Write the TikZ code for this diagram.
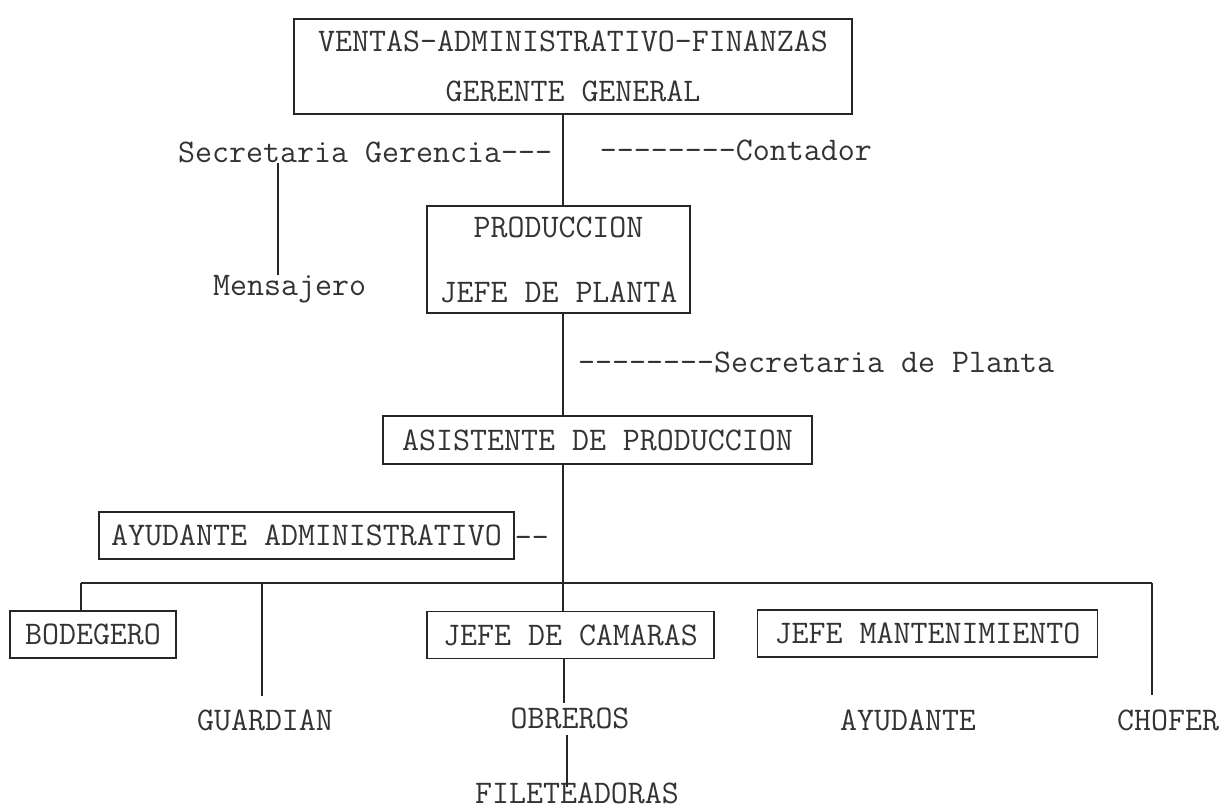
\documentclass[tikz,border=0pt]{standalone}
\usepackage{fontspec}

\begin{document}
\begin{tikzpicture}[x=1pt,y=1pt,yscale=-1,xscale=1,
  every node/.style={font=\ttfamily\fontsize{33}{50}\selectfont, text=black!80, inner sep=0pt},
  box/.style={draw=black!85, line width=1.5pt, minimum height=47pt},
  link/.style={draw=black!85, line width=1.5pt}]
\useasboundingbox (0,0) rectangle (1225,811);

%Shape: Rectangle [gerente]
\node[box, minimum width=558pt, minimum height=95pt, align=center] (gerente) at (573,66.5) {VENTAS-ADMINISTRATIVO-FINANZAS\\GERENTE GENERAL};
%Shape: Rectangle [prod]
\node[box, minimum width=263pt, minimum height=107pt, align=center] (prod) at (558.5,259.5) {PRODUCCION\\[15pt]JEFE DE PLANTA};
%Shape: Rectangle [asist]
\node[box, minimum width=429pt, minimum height=48pt] (asist) at (597.5,440) {ASISTENTE DE PRODUCCION};
%Shape: Rectangle [ayudadm]
\node[box, minimum width=415pt] (ayudadm) at (306.5,535.5) {AYUDANTE ADMINISTRATIVO};
%Shape: Rectangle [bodeg]
\node[box, minimum width=166pt] (bodeg) at (93,634.5) {BODEGERO};
%Shape: Rectangle [jcam]
\node[box, minimum width=287pt] (jcam) at (570.5,635) {JEFE DE CAMARAS};
%Shape: Rectangle [jmant]
\node[box, minimum width=340pt] (jmant) at (927.5,633.5) {JEFE MANTENIMIENTO};

% Text Node
\node[anchor=mid west] (secger) at (178,160) {Secretaria Gerencia---};
% Text Node
\node[anchor=mid east] (contad) at (872,158) {--------Contador};
% Text Node
\node[anchor=mid west] (mensaj) at (213,293) {Mensajero};
% Text Node
\node[anchor=mid west] (secpla) at (578,370) {--------Secretaria de Planta};
% Text Node
\node[anchor=mid west] (ayuddash) at ([yshift=10pt]ayudadm.east) {--};
% Text Node
\node (guard) at (265,720) {GUARDIAN};
% Text Node
\node (obrer) at (570,718) {OBREROS};
% Text Node
\node (ayudte) at (908,720) {AYUDANTE};
% Text Node
\node (chofer) at (1168,720) {CHOFER};
% Text Node
\node (filet) at (577,793) {FILETEADORAS};

\coordinate (trunk) at (563,0);
\coordinate (mline) at (278,0);
\coordinate (busl) at (81,583);
\coordinate (busr) at (1152,583);
\coordinate (gdrop) at (262,583);
\coordinate (cdrop) at (564,0);
\coordinate (fdrop) at (567,0);

%Straight Lines
\draw[link] (gerente.south -| trunk) -- (prod.north -| trunk);
\draw[link] (prod.south -| trunk) -- (asist.north -| trunk);
\draw[link] (asist.south -| trunk) -- (jcam.north -| trunk);
%Straight Lines
\draw[link] (secger.south -| mline) -- (mensaj.north -| mline);
%Straight Lines
\draw[link] (busl) -- (busr);
\draw[link] (busl) -- (bodeg.north -| busl);
\draw[link, shorten >=13pt] (gdrop) -- (guard.north -| gdrop);
\draw[link, shorten >=14pt] (busr) -- (chofer.north -| busr);
%Straight Lines
\draw[link, shorten >=4pt] (jcam.south -| cdrop) -- (obrer.north -| cdrop);
\draw[link, shorten <=6pt, shorten >=-5pt] (obrer.south -| fdrop) -- (filet.north -| fdrop);

\end{tikzpicture}
\end{document}
